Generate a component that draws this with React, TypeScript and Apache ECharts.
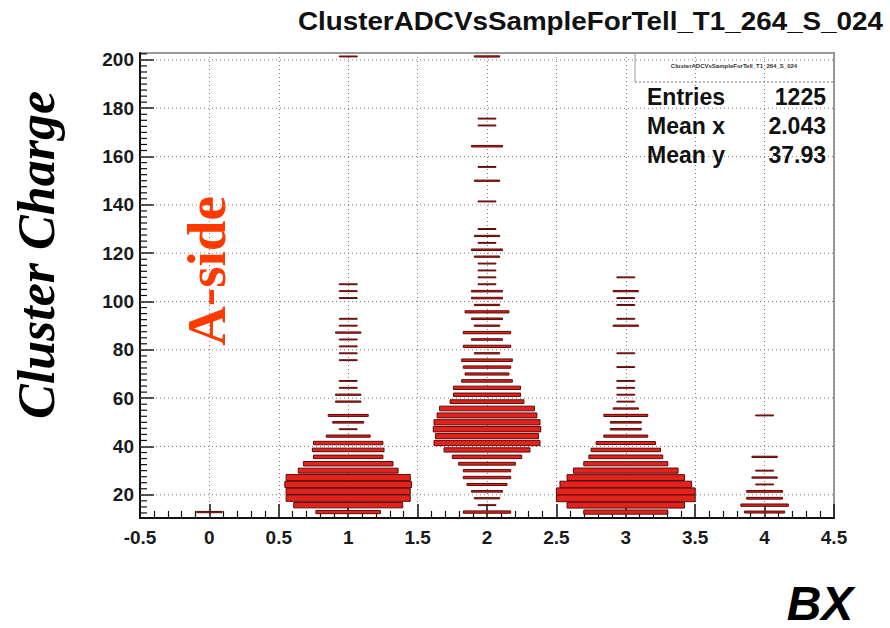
import React, { useEffect, useRef } from "react";
import * as echarts from "echarts";

// ---- texts ----
const TITLE = "ClusterADCVsSampleForTell_T1_264_S_024";
const X_NAME = "BX";
const Y_NAME = "Cluster Charge";
const SIDE_LABEL = "A-side";
const STATS_LABELS = ["Entries", "Mean x", "Mean y"];
const STATS_VALUES = ["1225", "2.043", "37.93"];

// ---- axes ----
const X_MIN = -0.5;
const X_MAX = 4.5;
const X_INTERVAL = 0.5;
const Y_MIN = 10.4;
const Y_MAX = 202.86;
const Y_MAJOR_TICKS = [20, 40, 60, 80, 100, 120, 140, 160, 180, 200];
const Y_MINOR_STEP = 2.5;

// ---- histogram (TH2, y bins of 200/70 ADC, first listed bin index = 4) ----
const BX_VALUES = [0, 1, 2, 3, 4];
const Y_BIN_WIDTH = 200 / 70;
const FIRST_Y_BIN = 4;
const COUNTS_BX0 = [2];
const COUNTS_BX1 = [
  13, 37, 48, 48, 50, 48, 31, 25, 15, 16,
  15, 6, 1, 3, 5, 0, 2, 2, 1, 1,
  0, 0, 1, 1, 1, 1, 2, 1, 1, 0,
  0, 1, 1, 1, 0, 0, 0, 0, 0, 0,
  0, 0, 0, 0, 0, 0, 0, 0, 0, 0,
  0, 0, 0, 0, 0, 0, 0, 0, 0, 0,
  0, 0, 0, 0, 0, 0, 1,
];
const COUNTS_BX2 = [
  7, 1, 2, 3, 5, 7, 7, 10, 15, 23,
  35, 33, 36, 35, 31, 28, 17, 14, 14, 8,
  6, 7, 8, 2, 7, 3, 7, 2, 3, 6,
  2, 3, 3, 1, 1, 1, 1, 2, 3, 1,
  2, 1, 0, 0, 0, 1, 0, 0, 2, 0,
  1, 0, 0, 3, 0, 0, 1, 1, 0, 0,
  0, 0, 0, 0, 0, 0, 2,
];
const COUNTS_BX3 = [
  22, 43, 60, 60, 54, 43, 34, 22, 17, 15,
  11, 6, 3, 3, 6, 2, 1, 1, 1, 1,
  0, 1, 0, 1, 0, 0, 0, 2, 1, 0,
  1, 1, 2, 0, 1,
];
const COUNTS_BX4 = [5, 7, 4, 4, 1, 2, 1, 0, 2, 0, 0, 0, 0, 0, 1];
const COLUMNS = [COUNTS_BX0, COUNTS_BX1, COUNTS_BX2, COUNTS_BX3, COUNTS_BX4];

const SANS = "'Liberation Sans', Arial, Helvetica, sans-serif";
const SERIF = "'Liberation Serif', 'Times New Roman', serif";

export default function App() {
  const ref = useRef<HTMLDivElement>(null);

  useEffect(() => {
    if (!ref.current) return;
    const chart = echarts.init(ref.current, null, { renderer: "svg" });

    const boxes: number[][] = [];
    let maxCount = 0;
    COLUMNS.forEach((col, i) => {
      col.forEach((c, j) => {
        if (c > 0) {
          boxes.push([BX_VALUES[i], (FIRST_Y_BIN + j + 0.5) * Y_BIN_WIDTH, c]);
          if (c > maxCount) maxCount = c;
        }
      });
    });

    const minorTicks: number[] = [];
    for (let v = 12.5; v <= Y_MAX; v += Y_MINOR_STEP) {
      if (v % 20 !== 0) minorTicks.push(v);
    }

    const option: any = {
      animation: false,
      backgroundColor: "#ffffff",
      grid: {
        left: 140,
        top: 53,
        width: 694,
        height: 465,
        show: true,
        borderColor: "#9a9a9a",
        borderWidth: 2,
        backgroundColor: "transparent",
      },
      xAxis: {
        type: "value",
        min: X_MIN,
        max: X_MAX,
        interval: X_INTERVAL,
        axisLine: { show: true, onZero: false, lineStyle: { color: "#111", width: 2 } },
        axisTick: { show: true, inside: true, length: 14, lineStyle: { color: "#111", width: 1.5 } },
        minorTick: { show: true, splitNumber: 5, length: 7, lineStyle: { color: "#111", width: 1.2 } },
        axisLabel: {
          fontFamily: SANS,
          fontWeight: "bold",
          fontSize: 19,
          color: "#1a1a1a",
          margin: 10,
          showMinLabel: true,
          showMaxLabel: true,
        },
        splitLine: { show: true, lineStyle: { color: "#7a7a7a", type: [1, 3], width: 1 } },
      },
      yAxis: {
        type: "value",
        min: Y_MIN,
        max: Y_MAX,
        position: "left",
        axisLine: { show: true, onZero: false, lineStyle: { color: "#111", width: 2 } },
        axisTick: {
          show: true,
          inside: true,
          length: 14,
          customValues: Y_MAJOR_TICKS,
          lineStyle: { color: "#111", width: 1.5 },
        },
        axisLabel: {
          customValues: Y_MAJOR_TICKS,
          fontFamily: SANS,
          fontWeight: "bold",
          fontSize: 19,
          color: "#1a1a1a",
          margin: 6,
        },
        splitLine: { show: false },
      },
      series: [
        {
          type: "custom",
          name: "ygrid",
          silent: true,
          z: 1,
          data: Y_MAJOR_TICKS.map((v) => [X_MIN, v]),
          renderItem: (params: any, api: any) => {
            const p = api.coord([X_MIN, api.value(1)]);
            const cs = params.coordSys;
            return {
              type: "line",
              shape: { x1: cs.x, y1: p[1], x2: cs.x + cs.width, y2: p[1] },
              style: { stroke: "#7a7a7a", lineDash: [1, 3], lineWidth: 1 },
            };
          },
        },
        {
          type: "custom",
          name: "yminor",
          silent: true,
          z: 4,
          data: minorTicks.map((v) => [X_MIN, v]),
          renderItem: (params: any, api: any) => {
            const p = api.coord([X_MIN, api.value(1)]);
            const cs = params.coordSys;
            return {
              type: "line",
              shape: { x1: cs.x, y1: p[1], x2: cs.x + 7, y2: p[1] },
              style: { stroke: "#111", lineWidth: 1.2 },
            };
          },
        },
        {
          type: "custom",
          name: "ClusterADC",
          silent: true,
          clip: true,
          z: 3,
          data: boxes,
          renderItem: (params: any, api: any) => {
            const x = api.value(0);
            const y = api.value(1);
            const c = api.value(2);
            const f = Math.sqrt(c / maxCount);
            const center = api.coord([x, y]);
            const size = api.size([1, Y_BIN_WIDTH]);
            const w = size[0] * f;
            const h = size[1] * f;
            return {
              type: "rect",
              shape: { x: center[0] - w / 2, y: center[1] - h / 2, width: w, height: h },
              style: { fill: "#e3231b", stroke: "#5a0a0a", lineWidth: 1 },
            };
          },
        },
      ],
      graphic: [
        {
          type: "text",
          x: 883,
          y: 21,
          scaleX: 1.07,
          style: {
            text: TITLE,
            font: `bold 26px ${SANS}`,
            fill: "#111",
            align: "right",
            verticalAlign: "middle",
          },
        },
        {
          type: "text",
          x: 36,
          y: 255,
          rotation: Math.PI / 2,
          style: {
            text: Y_NAME,
            font: `italic bold 52px ${SERIF}`,
            fill: "#000",
            align: "center",
            verticalAlign: "middle",
          },
        },
        {
          type: "text",
          x: 206,
          y: 271,
          rotation: Math.PI / 2,
          z: 10,
          style: {
            text: SIDE_LABEL,
            font: `bold 55px ${SERIF}`,
            fill: "#ff3a00",
            align: "center",
            verticalAlign: "middle",
          },
        },
        {
          type: "text",
          x: 820,
          y: 603,
          style: {
            text: X_NAME,
            font: `italic bold 48px ${SANS}`,
            fill: "#000",
            align: "center",
            verticalAlign: "middle",
          },
        },
        // stats box
        {
          type: "line",
          shape: { x1: 635, y1: 82, x2: 833, y2: 82 },
          style: { stroke: "#777", lineDash: [2, 2], lineWidth: 1 },
          z: 10,
        },
        {
          type: "line",
          shape: { x1: 635, y1: 54, x2: 635, y2: 82 },
          style: { stroke: "#999", lineWidth: 1 },
          z: 10,
        },
        {
          type: "text",
          x: 734,
          y: 66,
          z: 10,
          style: {
            text: TITLE,
            font: `bold 6px ${SANS}`,
            fill: "#333",
            align: "center",
            verticalAlign: "middle",
          },
        },
        ...STATS_LABELS.map((t, i) => ({
          type: "text",
          x: 647,
          y: 97 + i * 29,
          z: 10,
          style: {
            text: t,
            font: `bold 23px ${SANS}`,
            fill: "#111",
            align: "left",
            verticalAlign: "middle",
          },
        })),
        ...STATS_VALUES.map((t, i) => ({
          type: "text",
          x: 826,
          y: 97 + i * 29,
          z: 10,
          style: {
            text: t,
            font: `bold 23px ${SANS}`,
            fill: "#111",
            align: "right",
            verticalAlign: "middle",
          },
        })),
      ],
    };

    chart.setOption(option);
    return () => chart.dispose();
  }, []);

  return (
    <div
      ref={ref}
      style={{ position: "absolute", left: 0, top: 0, width: 890, height: 628, background: "#fff" }}
    />
  );
}
